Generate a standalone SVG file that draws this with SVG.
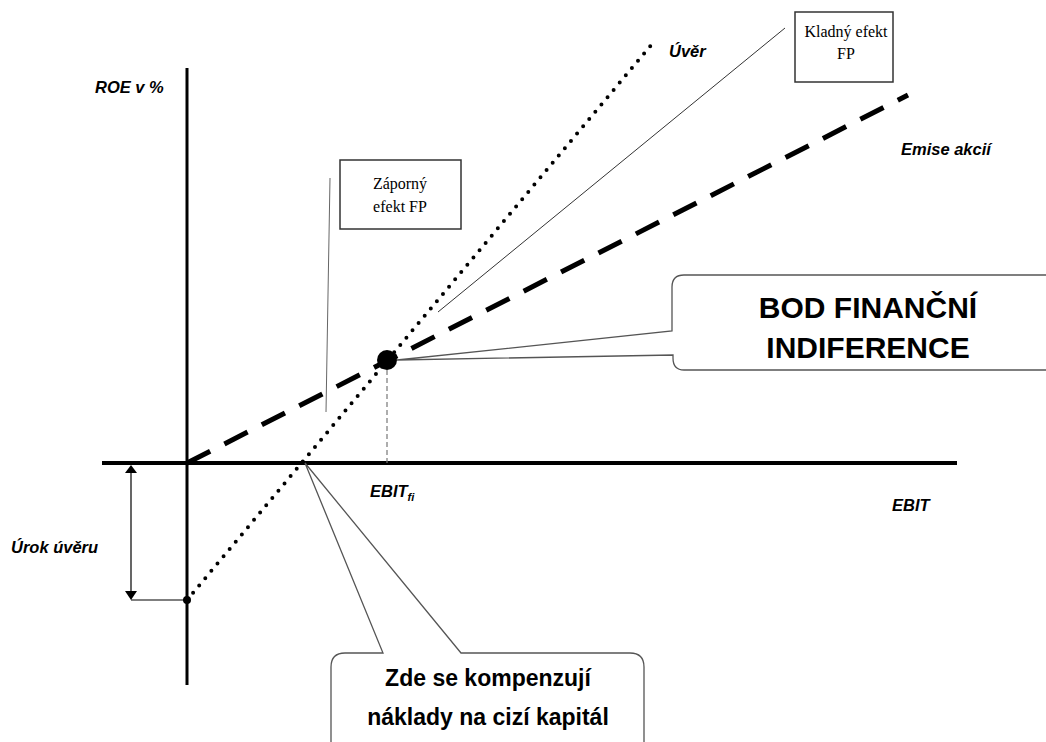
<svg xmlns="http://www.w3.org/2000/svg" width="1046" height="742" viewBox="0 0 1046 742">
<style>
.lbl{font-family:"Liberation Sans",Arial,sans-serif;font-weight:bold;font-style:italic;font-size:16.5px;fill:#000}
.box{fill:#fff;stroke:#333;stroke-width:1.5}
.ser{font-family:"Liberation Serif","Times New Roman",serif;font-size:16px;fill:#000;text-anchor:middle}
.call{fill:#fff;stroke:#555;stroke-width:1.3}
.big{font-family:"Liberation Sans",Arial,sans-serif;font-weight:bold;fill:#000;text-anchor:middle}
.thin{stroke:#333;stroke-width:1;fill:none}
</style>
<rect width="1046" height="742" fill="#fff"/>
<g id="axes">
<line x1="187" y1="68" x2="187" y2="685" stroke="#000" stroke-width="3"/>
<line x1="102" y1="463" x2="957" y2="463" stroke="#000" stroke-width="4"/>
</g>
<g id="connectors">
<line x1="187" y1="463" x2="908" y2="95" stroke="#000" stroke-width="5" stroke-dasharray="26,16"/>
<line x1="187" y1="600" x2="652" y2="44" stroke="#000" stroke-width="4" stroke-dasharray="0,9.5" stroke-linecap="round"/>
<line x1="387" y1="370" x2="387" y2="463" stroke="#777" stroke-width="1.2" stroke-dasharray="5,3"/>
<line x1="131" y1="470" x2="131" y2="594" stroke="#000" stroke-width="1.2"/>
<path d="M125,473 L131,465 L137,473 z" fill="#000"/>
<path d="M125,591 L131,600 L137,591 z" fill="#000"/>
<line x1="131" y1="600" x2="187" y2="600" stroke="#000" stroke-width="1.2"/>
<line x1="438" y1="312" x2="785" y2="28" class="thin"/>
<line x1="330" y1="178" x2="326" y2="412" stroke="#666" stroke-width="1"/>
</g>
<g id="point">
<circle cx="387" cy="360" r="10" fill="#000"/>
<circle cx="187" cy="600" r="4" fill="#000"/>
</g>
<g id="labels">
<text class="lbl" x="95" y="93" font-size="18">ROE v %</text>
<text class="lbl" x="669" y="57">Úvěr</text>
<text class="lbl" x="901" y="155">Emise akcií</text>
<text class="lbl" x="892" y="511">EBIT</text>
<text class="lbl" x="370" y="497">EBIT<tspan font-size="11" dy="4">fi</tspan></text>
<text class="lbl" x="11" y="553">Úrok úvěru</text>
</g>
<g id="kladny">
<rect class="box" x="795" y="12" width="98" height="70"/>
<text class="ser" x="846" y="37">Kladný efekt</text>
<text class="ser" x="846" y="59">FP</text>
</g>
<g id="zaporny">
<rect class="box" x="340" y="160" width="121" height="69"/>
<text class="ser" x="400" y="189">Záporný</text>
<text class="ser" x="400" y="212">efekt FP</text>
</g>
<g id="bod">
<path class="call" d="M397,360 L672,331 L672,287 Q672,275 684,275 L1050,275 L1050,370 L684,370 Q673,370 673,358 L673,355 Z"/>
<text class="big" x="868" y="318" font-size="30">BOD FINANČNÍ</text>
<text class="big" x="868" y="358" font-size="30">INDIFERENCE</text>
</g>
<g id="zde">
<path class="call" d="M305,463 L383,653 L345,653 Q331,653 331,667 L331,745 L644,745 L644,667 Q644,653 630,653 L461,653 Z"/>
<text class="big" x="488" y="686" font-size="23">Zde se kompenzují</text>
<text class="big" x="488" y="725" font-size="23">náklady na cizí kapitál</text>
</g>
</svg>
